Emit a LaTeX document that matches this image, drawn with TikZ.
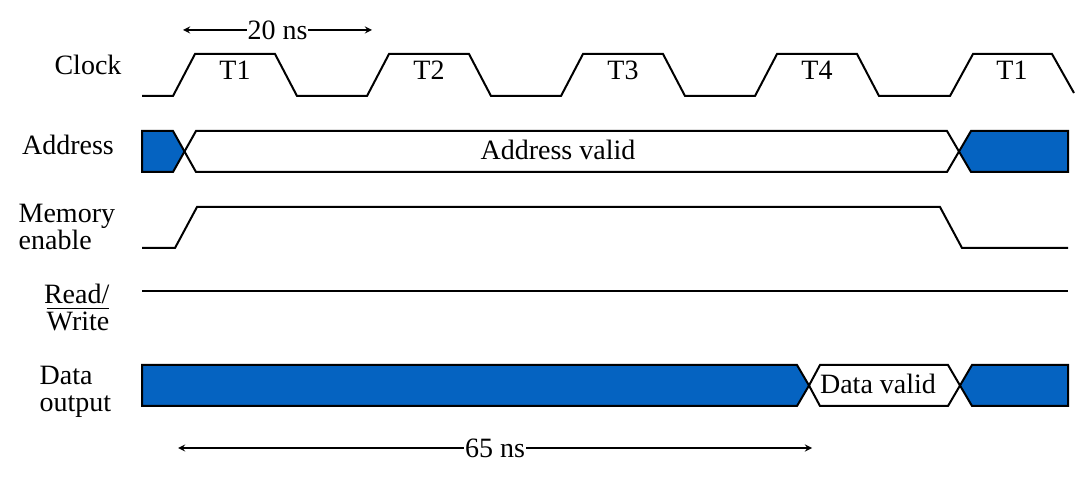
\documentclass[tikz,border=0pt]{standalone}
\usepackage{fontspec}
\setmainfont{Liberation Serif}
\definecolor{busblue}{RGB}{5,99,193}
\begin{document}
\begin{tikzpicture}[x=0.5pt, y=-0.5pt, line width=1pt, font=\fontsize{14}{13.5}\selectfont,
    busfill/.style={draw, fill=busblue},
    dim/.style={<->, >=stealth, line width=0.6pt}]
  \useasboundingbox (0,0) rectangle (1076,480);
  % signal names
  \node (clk) at (88,65) {Clock};
  \node (addr) at (68,145) {Address};
  \node[align=left, anchor=west] (mem) at (11,227) {Memory\\enable};
  \node[align=right, anchor=east] (rw) at (117,307) {Read/\\$\overline{\hbox{Write}}$};
  \node[align=left, anchor=west] (dout) at (32,392) {Data\\output};
  % clock
  \draw (142,96) foreach \s in {173,367,561,755} { -- (\s,96) -- ({\s+22},54) -- ({\s+102},54) -- ({\s+124},96) }
    -- (950,96) -- (973,54) -- (1052,54) -- (1074,93);
  \foreach \s/\t [count=\i] in {173/T1,367/T2,561/T3,755/T4,950/T1} \node (t\i) at ({\s+62},70) {\t};
  % address bus
  \draw[busfill] (142,131) -- (173,131) -- (184.5,151.5) -- (173,172) -- (142,172) -- cycle;
  \draw (184.5,151.5) -- (196,131) -- (947,131) -- (959,151.5) -- (947,172) -- (196,172) -- cycle;
  \draw[busfill] (959,151.5) -- (971,131) -- (1068,131) -- (1068,172) -- (971,172) -- cycle;
  \node (av) at (558,150) {Address valid};
  % memory enable, read/write
  \draw (142,248) -- (175,248) -- (197,207) -- (940,207) -- (962,248) -- (1068,248);
  \draw (142,291) -- (1068,291);
  % data output
  \draw[busfill] (142,365) -- (797,365) -- (809,385.5) -- (797,406) -- (142,406) -- cycle;
  \draw (809,385.5) -- (820,365) -- (948,365) -- (960,385.5) -- (948,406) -- (820,406) -- cycle;
  \draw[busfill] (960,385.5) -- (972,365) -- (1068,365) -- (1068,406) -- (972,406) -- cycle;
  \node (dv) at (878,384) {Data valid};
  % timing
  \coordinate (p1) at (183,30); \coordinate (p2) at (372,30);
  \draw[dim] (p1) -- node[fill=white, inner sep=0.5pt] (tp) {20 ns} (p2);
  \coordinate (q1) at (178,448); \coordinate (q2) at (812,448);
  \draw[dim] (q1) -- node[fill=white, inner sep=0.5pt] (tq) {65 ns} (q2);
\end{tikzpicture}
\end{document}
